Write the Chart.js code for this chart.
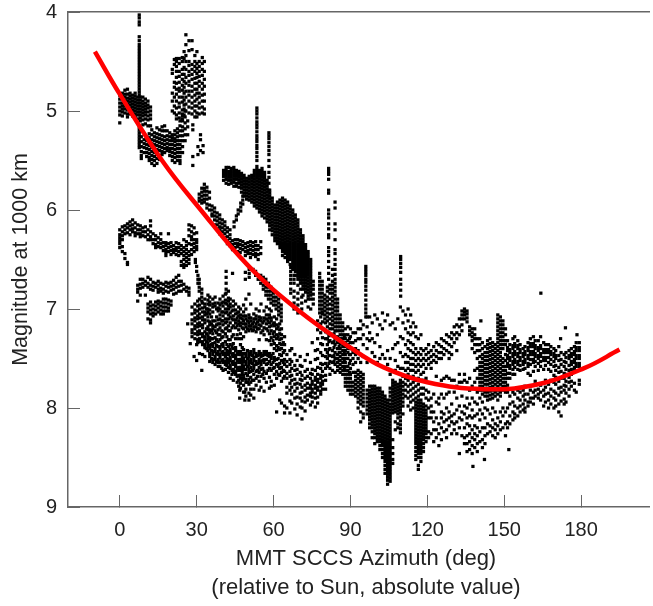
<!DOCTYPE html>
<html>
<head>
<meta charset="utf-8">
<style>
html,body{margin:0;padding:0;background:#fff}
#wrap{width:653px;height:606px;position:relative}
</style>
<script src="https://cdn.jsdelivr.net/npm/chart.js@4"></script>
</head>
<body>
<div id="wrap"><canvas id="c"></canvas></div>
<script>
const xTickValues = [0, 30, 60, 90, 120, 150, 180];
const yTickValues = [4, 5, 6, 7, 8, 9];
const xTitleLines = ['MMT SCCS Azimuth (deg)', '(relative to Sun, absolute value)'];
const yTitle = 'Magnitude at 1000 km';

// fit curve
const fitAzimuth = [-9.7, 0, 16.5, 31, 50, 70, 90, 103, 120, 142, 161.5, 181, 195];
const fitMagnitude = [4.4, 4.83, 5.5, 5.98, 6.56, 7.02, 7.39, 7.59, 7.74, 7.81, 7.77, 7.6, 7.41];

// every row: azimuth, then the magnitudes seen in that column
const spikeRows = [
[7.6,4.03,4.06,4.1,4.13,4.25,4.29,4.33,4.36,4.39,4.42,4.45,4.48,4.51,4.54,4.57,4.6,4.63,4.66,4.69,4.72,4.75,4.78,4.81,4.84,5.16,5.19,5.22,5.25,5.28,5.31,5.34,5.37],
[8.4,5.2,5.26,5.31,5.36,5.41,5.45,5.48],
[53.5,4.97,5.0,5.03,5.07,5.11,5.14,5.17,5.21,5.25,5.28,5.31,5.35,5.38,5.42,5.46,5.5],
[58.2,5.22,5.25,5.28,5.32,5.36,5.4,5.44,5.5,5.56,5.62,5.67,5.73,5.8,5.86],
[81.5,5.58,5.61,5.64,5.69,5.8,5.83,6.0,6.04,6.08,6.14,6.19,6.25,6.28,6.38,6.42,6.46,6.52,6.58,6.64,6.7],
[84,5.92,5.98,6.14,6.2,6.3,6.4,6.44,6.5,6.55,6.6,6.65,6.7,6.74],
[96,6.57,6.6,6.63,6.66,6.7,6.73,6.77,6.81,6.86,6.91,6.96,7.0,7.04,7.08],
[109.6,6.47,6.5,6.54,6.58,6.63,6.7,6.75,6.81,6.87],
[164.3,6.84],[173.9,7.19],[178.4,7.26],[172,7.3],[140.9,7.12],[137.8,8.59],[142.3,8.52],[151.8,8.42],[132.5,8.46]
];

const sunBlobRows = [
[0,4.84,4.88,4.92,4.96,5.0,5.04,5.12],
[1,4.82,4.85,4.88,4.92,4.95,4.98,5.01,5.05],
[2,4.79,4.83,4.86,4.89,4.92,4.95,4.98,5.02],
[3,4.78,4.83,4.87,4.9,4.93,4.96,4.99,5.03,5.06],
[4,4.82,4.85,4.88,4.91,4.94,4.97,5.0,5.03],
[5,4.84,4.87,4.9,4.93,4.96,4.99,5.02,5.05],
[6,4.82,4.85,4.88,4.91,4.94,4.97,5.0,5.03,5.06],
[7,4.86,4.89,4.92,4.95,4.98,5.01,5.04,5.08],
[8,4.86,4.89,4.92,4.95,4.98,5.01,5.04,5.07,5.1],
[9,4.86,4.9,4.93,4.96,4.99,5.02,5.05,5.09,5.14],
[10,4.88,4.92,4.95,4.98,5.01,5.04,5.08,5.13],
[11,4.9,4.94,4.97,5.01,5.05,5.09,5.15],
[12,4.96,5.0,5.04,5.08,5.15]
];

const lowerCupRows = [
[9.5,5.29,5.33,5.37,5.42],
[10.5,5.26,5.3,5.34,5.38,5.42,5.46],
[11.5,5.23,5.27,5.31,5.35,5.39,5.43,5.47,5.5],
[12.5,5.19,5.24,5.29,5.33,5.37,5.41,5.45,5.49,5.53],
[13.5,5.22,5.26,5.3,5.34,5.38,5.42,5.46,5.5,5.55],
[14.5,5.17,5.23,5.27,5.31,5.35,5.39,5.44,5.48,5.53],
[15.5,5.19,5.24,5.28,5.32,5.36,5.4,5.45,5.49],
[16.5,5.16,5.2,5.25,5.29,5.33,5.37,5.41,5.44],
[17.5,5.15,5.2,5.26,5.3,5.34,5.38,5.42],
[18.5,5.2,5.25,5.29,5.33,5.37,5.4],
[19.5,5.22,5.26,5.3,5.34,5.38,5.41,5.45],
[20.5,5.24,5.27,5.3,5.34,5.38,5.42,5.46,5.5],
[21.5,5.2,5.24,5.28,5.31,5.35,5.39,5.43,5.47,5.52],
[22.5,5.18,5.22,5.26,5.3,5.34,5.38,5.42,5.46,5.5],
[23.5,5.1,5.15,5.2,5.25,5.3,5.34,5.38,5.42,5.46,5.5,5.53],
[24.5,5.05,5.1,5.16,5.2,5.25,5.3,5.36,5.42],
[25.5,5.0,5.06,5.12,5.18,5.24,5.3],
[26.5,5.1,5.16,5.24],
[28.5,5.14,5.19,5.46,5.55],[30.5,5.36,5.44],[31.5,5.24,5.29,5.4],[32.5,5.35,5.42]
];

const towerRows = [
[20.5,4.58,4.62,4.82,4.9,5.0],
[21.3,4.48,4.53,4.71,4.76,4.86,4.95,5.02],
[22.1,4.47,4.5,4.55,4.6,4.66,4.72,4.78,4.83,4.9,4.97,5.04,5.08],
[23.2,4.47,4.52,4.6,4.65,4.71,4.77,4.8,4.86,4.92,4.96,5.02,5.07],
[24.4,4.46,4.5,4.58,4.63,4.68,4.74,4.79,4.86,4.91,4.99,5.03,5.08],
[25.1,4.4,4.47,4.56,4.63,4.7,4.76,4.82,4.89,4.94,4.98,5.04],
[25.8,4.23,4.33,4.44,4.5,4.58,4.66,4.72,4.8,4.86,4.93,5.0],
[27,4.29,4.39,4.5,4.54,4.6,4.64,4.7,4.74,4.8,4.84,4.9,4.96,5.02],
[28.2,4.29,4.38,4.53,4.58,4.63,4.68,4.75,4.8,4.86,4.92,4.97,5.03],
[29.3,4.44,4.5,4.55,4.6,4.67,4.72,4.78,4.84,4.9,4.95,5.0,5.06],
[30.1,4.4,4.52,4.57,4.62,4.66,4.72,4.78,4.82,4.88,4.95,5.02,5.06],
[31,4.5,4.55,4.6,4.65,4.7,4.75,4.82,4.86,4.92,4.97,5.03],
[32.2,4.46,4.52,4.58,4.64,4.72,4.78,4.84,4.9,4.96,5.02],
[33,4.5,4.6,4.68,4.75,4.83,4.9,4.98,5.03]
];

const curveBandRows = [
[31,5.84,5.88,5.91],[32,5.78,5.82,5.86,5.9,5.93],[33,5.74,5.78,5.81,5.85,5.89,5.92],
[34,5.77,5.81,5.85,5.89,5.94,5.98],[35,5.82,5.88,5.95,6.0],[36,5.96,6.0,6.04,6.06],[37,5.98,6.02,6.06,6.1,6.15],
[38,6.03,6.07,6.11,6.15,6.19],[39,6.05,6.09,6.13,6.17,6.2,6.24],[40,6.1,6.14,6.18,6.22,6.26],
[41,6.12,6.16,6.2,6.24,6.28],[42,6.18,6.22,6.27,6.31,6.34],[43,6.2,6.25,6.29,6.33,6.36],
[44,6.31,6.35,6.4],[45,6.3,6.34,6.38],[46,6.3,6.34,6.37,6.42],[47,6.31,6.35,6.39,6.43],[48,6.32,6.36,6.4],
[49,6.34,6.38,6.42,6.46],[50,6.33,6.37,6.41,6.44],[51,6.32,6.36,6.4,6.44,6.48],[52,6.33,6.37,6.41,6.45,6.6],[53,6.32,6.36,6.4,6.44,6.47,6.62,6.66],
[54,6.36,6.4,6.45,6.5,6.66,6.7],[55,6.32,6.38,6.44,6.66,6.7,6.74],[50.5,6.6,6.64,6.68],[56,6.68,6.72,6.76,6.8],
[57,6.7,6.74,6.78,6.82,6.86],[58,6.74,6.78,6.82,6.86,6.9],[59,6.78,6.82,6.86,6.9,6.94],[60,6.84,6.88,6.92,6.96],
[61,6.88,6.92,6.96,7.0],[62,6.9,6.94,6.98,7.02,7.06],[63,6.96,7.0,7.04,7.08,7.12],
[41.5,6.62,6.68,6.74,6.8,6.84],[49,6.63,6.7],[44,6.64]
];

const mainBandRows = [
[40.5,5.6,5.63,5.66,5.7],
[41.5,5.57,5.6,5.63,5.66,5.69,5.73],
[42.5,5.57,5.61,5.64,5.67,5.7,5.74],
[43.5,5.58,5.61,5.64,5.67,5.7,5.73],
[44.5,5.57,5.6,5.63,5.66,5.69,5.72,5.76],
[45.5,5.6,5.63,5.66,5.69,5.73,5.76],
[46.5,5.61,5.64,5.67,5.7,5.73,5.77],
[47.5,5.63,5.66,5.69,5.72,5.75,5.78,5.82],
[48.5,5.65,5.68,5.71,5.74,5.77,5.8,5.83,5.86],
[49.5,5.68,5.71,5.74,5.77,5.8,5.83,5.86,5.89],
[50.5,5.66,5.69,5.72,5.75,5.78,5.81,5.84,5.87,5.9],
[51.5,5.65,5.68,5.71,5.74,5.77,5.8,5.83,5.86,5.89,5.92],
[52.5,5.6,5.63,5.66,5.69,5.72,5.75,5.78,5.81,5.84,5.87,5.9,5.93,5.96],
[53.5,5.56,5.59,5.62,5.65,5.68,5.71,5.74,5.77,5.8,5.83,5.86,5.89,5.92,5.95,5.98],
[54.5,5.6,5.63,5.66,5.69,5.72,5.75,5.78,5.81,5.84,5.87,5.9,5.93,5.96,5.99,6.02],
[55.5,5.58,5.61,5.64,5.67,5.7,5.73,5.76,5.79,5.82,5.85,5.88,5.91,5.94,5.97,6.0,6.03,6.06],
[56.5,5.62,5.65,5.68,5.71,5.74,5.77,5.8,5.83,5.86,5.89,5.92,5.95,5.98,6.01,6.04,6.08],
[57.5,5.7,5.73,5.76,5.79,5.82,5.85,5.88,5.91,5.94,5.97,6.0,6.03,6.06,6.09,6.12],
[58.5,5.8,5.83,5.86,5.89,5.92,5.95,5.98,6.01,6.04,6.07,6.1,6.13,6.16,6.2],
[59.5,5.88,5.91,5.94,5.97,6.0,6.03,6.06,6.09,6.12,6.15,6.18,6.21,6.25],
[60.5,5.95,5.98,6.01,6.04,6.07,6.1,6.13,6.16,6.19,6.22,6.25,6.28,6.31],
[61.5,5.92,5.95,5.98,6.01,6.04,6.07,6.1,6.13,6.16,6.19,6.22,6.25,6.28,6.31,6.34],
[62.5,5.9,5.93,5.96,5.99,6.02,6.05,6.08,6.11,6.14,6.17,6.2,6.23,6.26,6.29,6.32,6.35,6.38],
[63.5,5.88,5.91,5.94,5.97,6.0,6.03,6.06,6.09,6.12,6.15,6.18,6.21,6.24,6.27,6.3,6.33,6.36,6.39,6.42,6.46],
[64.5,5.9,5.93,5.96,5.99,6.02,6.05,6.08,6.11,6.14,6.17,6.2,6.23,6.26,6.29,6.32,6.35,6.38,6.41,6.44,6.48],
[65.5,5.92,5.95,5.98,6.01,6.04,6.07,6.1,6.13,6.16,6.19,6.22,6.25,6.28,6.31,6.34,6.37,6.4,6.43,6.46,6.49,6.52],
[66.5,5.96,5.99,6.02,6.05,6.08,6.11,6.14,6.17,6.2,6.23,6.26,6.29,6.32,6.35,6.38,6.41,6.44,6.47,6.5,6.55],
[67.5,6.0,6.03,6.06,6.09,6.12,6.15,6.18,6.21,6.24,6.27,6.3,6.33,6.36,6.39,6.42,6.45,6.48,6.51,6.54,6.57,6.6],
[68.5,6.05,6.08,6.11,6.14,6.17,6.2,6.23,6.26,6.29,6.32,6.35,6.38,6.41,6.44,6.47,6.5,6.53,6.56,6.59,6.62,6.66],
[69.5,6.1,6.13,6.16,6.19,6.22,6.25,6.28,6.31,6.34,6.37,6.4,6.43,6.46,6.49,6.52,6.55,6.58,6.61,6.64,6.67,6.7],
[70.5,6.2,6.23,6.26,6.29,6.32,6.35,6.38,6.41,6.44,6.47,6.5,6.53,6.56,6.59,6.62,6.65,6.68,6.71,6.74,6.8],
[71.5,6.26,6.29,6.32,6.35,6.38,6.41,6.44,6.47,6.5,6.53,6.56,6.59,6.62,6.65,6.68,6.71,6.74,6.77,6.8,6.86],
[72.5,6.35,6.38,6.41,6.44,6.47,6.5,6.53,6.56,6.59,6.62,6.65,6.68,6.71,6.74,6.77,6.8,6.83,6.92],
[73.5,6.42,6.45,6.48,6.51,6.54,6.57,6.6,6.63,6.66,6.69,6.72,6.75,6.78,6.81,6.84,6.87,6.9,6.98],
[74.5,6.5,6.53,6.56,6.59,6.62,6.65,6.68,6.71,6.74,6.77,6.8,6.83,6.86,6.9,7.0],
[75.5,6.72,6.76,6.8,6.85,6.9,6.95],
[48,5.86,5.9,5.94],[47.2,5.93,5.97,6.01],[46.2,6.0,6.04],[45.5,6.06,6.1],[44.6,6.12,6.17],
[66.7,6.58,6.62,6.66,6.7,6.74,6.8,6.84],[68,6.66,6.7,6.74,6.82,6.88,6.94,7.0],[69.5,6.76,6.84,6.9,6.96,7.04],[71,6.88,6.94,7.0]
];

const arcUpperRows = [
[0,6.2,6.25,6.28,6.31,6.34,6.38],[1,6.17,6.22,6.26,6.3,6.37,6.42],[2,6.16,6.2,6.24,6.44,6.49],[3,6.14,6.18,6.23,6.53,6.55],
[4,6.12,6.16,6.2,6.25],[5,6.1,6.15,6.19,6.22],[6,6.13,6.18,6.23,6.26],[7,6.15,6.2,6.24],[8,6.16,6.2,6.24,6.27],[9,6.18,6.22,6.26],
[10,6.17,6.22,6.27],[11,6.2,6.25,6.3],[12,6.11,6.16,6.22,6.27,6.3],[13,6.24,6.3,6.34],[14,6.26,6.3,6.35,6.38],[15,6.28,6.33,6.37],
[16,6.24,6.3,6.34,6.38],[17,6.33,6.37,6.41],[18,6.33,6.36,6.4,6.43,6.46],[19,6.24,6.34,6.38,6.42],[20,6.33,6.37,6.41,6.45],[21,6.36,6.4,6.43],
[22,6.33,6.38,6.41,6.45],[23,6.34,6.38,6.42,6.46],[24,6.36,6.4,6.44,6.52,6.56],[25,6.3,6.38,6.42,6.46,6.5,6.55,6.58],[26,6.32,6.36,6.4,6.44,6.48,6.52,6.56],
[27,6.15,6.2,6.26,6.34,6.42,6.46,6.5,6.54],[28,6.16,6.22,6.27,6.3,6.35,6.4,6.45],[29,6.18,6.24,6.3,6.34,6.38,6.42],[30,6.23,6.3,6.33,6.37,6.4]
];

const arcLowerRows = [
[7,6.76,6.8,6.83,6.92],[8,6.7,6.75,6.79,6.86],[9,6.7,6.74,6.78],[10,6.72,6.76,6.86],[11,6.68,6.74,6.78],[12,6.7,6.76,6.8],
[13,6.73,6.77,6.81],[14,6.74,6.78],[15,6.72,6.76,6.8,6.83],[16,6.74,6.79,6.82],[17,6.75,6.8,6.84],[18,6.73,6.77,6.82],
[19,6.74,6.78,6.83],[20,6.73,6.77,6.81],[21,6.71,6.76,6.8,6.85],[22,6.68,6.74,6.78,6.84],[23,6.66,6.72,6.77,6.82],
[24,6.72,6.76,6.82],[25,6.75,6.8],[26,6.78,6.82],[27,6.79,6.83,6.86],
[11,6.95,6.99,7.03,7.1],[12,6.93,6.97,7.01,7.05,7.11,7.14],[13,6.96,7.0,7.04,7.07],[14,6.93,6.97,7.01,7.05],[15,6.92,6.95,6.99,7.03],
[16,6.93,6.97,7.01,7.05],[17,6.9,6.94,6.98,7.02,7.05],[18,6.9,6.94,6.98,7.02],[19,6.91,6.95,6.99,7.02],[20,6.92,6.96],
[29.5,6.5,6.53],[30,6.57,6.62],[30.5,6.66,6.7,6.74],[31,6.7,6.74,6.78,6.82],[32,6.8,6.84,6.88,6.92]
];

const centralRows = [
[28.2,6.98,7.05,7.11,7.15,7.21,7.24,7.28],
[29.3,6.95,7.01,7.04,7.09,7.12,7.17,7.2,7.25,7.3],
[30.4,6.92,6.97,7.02,7.07,7.1,7.15,7.18,7.23,7.26,7.31,7.34],
[31.1,6.9,6.96,7.0,7.05,7.09,7.14,7.17,7.22,7.25,7.3,7.33,7.45],
[32.3,6.94,6.99,7.03,7.08,7.11,7.16,7.19,7.25,7.28,7.33,7.36,7.46],
[33.2,6.9,6.95,6.98,7.03,7.06,7.11,7.14,7.23,7.28,7.31,7.36,7.39,7.48],
[34.4,6.86,6.91,6.95,7.0,7.03,7.08,7.12,7.18,7.21,7.27,7.3,7.35,7.38,7.42],
[35.1,6.88,6.93,6.96,7.01,7.05,7.13,7.16,7.21,7.24,7.29,7.32,7.37,7.4,7.45,7.48,7.53],
[36.3,6.9,6.95,6.98,7.03,7.12,7.17,7.2,7.25,7.3,7.35,7.38,7.43,7.46,7.51,7.54],
[37.2,6.88,6.94,6.97,7.12,7.18,7.22,7.29,7.34,7.4,7.43,7.48,7.51,7.56],
[38.4,6.94,6.99,7.02,7.11,7.15,7.21,7.26,7.33,7.38,7.43,7.46,7.51,7.54,7.58],
[39.1,6.9,6.96,7.0,7.06,7.1,7.15,7.19,7.26,7.31,7.38,7.41,7.46,7.49,7.54,7.58],
[40.3,6.87,6.93,6.97,7.03,7.07,7.12,7.16,7.23,7.28,7.35,7.38,7.43,7.46,7.51,7.54,7.62],
[41.2,6.85,6.91,6.94,7.0,7.04,7.1,7.14,7.2,7.25,7.33,7.4,7.45,7.48,7.53,7.56,7.61],
[42.4,6.82,6.89,6.92,6.97,7.0,7.06,7.1,7.17,7.22,7.31,7.38,7.43,7.46,7.51,7.54,7.59,7.64],
[43.1,6.9,6.95,6.98,7.04,7.08,7.14,7.22,7.31,7.36,7.41,7.44,7.49,7.52,7.57,7.6,7.7],
[44.3,6.92,6.97,7.01,7.07,7.11,7.17,7.26,7.35,7.4,7.45,7.48,7.53,7.56,7.61,7.64,7.72],
[45.2,6.95,7.01,7.05,7.11,7.14,7.19,7.3,7.39,7.42,7.47,7.5,7.55,7.58,7.63,7.66],
[46.4,6.98,7.03,7.07,7.12,7.15,7.21,7.3,7.43,7.46,7.51,7.54,7.59,7.62,7.67,7.72,7.78],
[47.1,7.0,7.06,7.09,7.14,7.17,7.25,7.36,7.43,7.46,7.51,7.54,7.59,7.62,7.67,7.7,7.75,7.8],
[48.3,6.96,7.03,7.07,7.12,7.15,7.2,7.28,7.41,7.45,7.5,7.53,7.58,7.61,7.67,7.7,7.77,7.84],
[49.2,6.9,7.0,7.07,7.1,7.15,7.18,7.23,7.45,7.48,7.53,7.56,7.61,7.65,7.71,7.74,7.81,7.88],
[50.4,6.85,7.06,7.09,7.14,7.17,7.22,7.45,7.48,7.53,7.56,7.61,7.64,7.71,7.76,7.85,7.92],
[51.1,6.95,7.09,7.12,7.17,7.2,7.43,7.46,7.51,7.54,7.59,7.63,7.69,7.74,7.81,7.87],
[52.3,7.05,7.1,7.13,7.18,7.21,7.41,7.44,7.49,7.52,7.57,7.6,7.66,7.72,7.81,7.9],
[53.2,7.0,7.07,7.1,7.15,7.18,7.23,7.45,7.48,7.53,7.56,7.63,7.7,7.77],
[54.4,7.02,7.08,7.11,7.16,7.2,7.31,7.43,7.46,7.51,7.54,7.59,7.64,7.73,7.82],
[55.1,6.95,7.09,7.12,7.17,7.24,7.45,7.48,7.53,7.56,7.61,7.68,7.79],
[56.3,7.02,7.09,7.12,7.19,7.26,7.43,7.46,7.51,7.54,7.63,7.7,7.83],
[57.2,6.98,7.06,7.1,7.15,7.2,7.31,7.43,7.46,7.51,7.56,7.65,7.74],
[58.4,7.0,7.06,7.09,7.14,7.18,7.25,7.32,7.45,7.48,7.53,7.6,7.69,7.8],
[59.1,7.02,7.09,7.12,7.17,7.22,7.29,7.36,7.47,7.5,7.56,7.62,7.73,7.78],
[60.3,7.08,7.14,7.17,7.23,7.28,7.35,7.4,7.49,7.52,7.59,7.66,7.77],
[61.2,7.1,7.16,7.2,7.26,7.3,7.37,7.42,7.51,7.56,7.63,7.7,8.04],
[62.4,7.15,7.21,7.25,7.31,7.35,7.41,7.46,7.55,7.6,7.67,7.92],
[63.1,7.2,7.26,7.3,7.36,7.4,7.47,7.52,7.59,7.64,7.73,7.95],
[64.3,7.28,7.36,7.42,7.51,7.56,7.63,7.68,7.98,8.05],
[65.2,7.46,7.53,7.58,7.65,7.7,7.79,7.85,8.0],
[66.4,7.42,7.51,7.56,7.63,7.68,7.75,7.82,7.93,8.05],
[67.1,7.4,7.53,7.6,7.67,7.72,7.79,7.86,7.95],
[68.3,7.46,7.57,7.62,7.71,7.76,7.83,7.9,8.01],
[69.2,7.52,7.61,7.66,7.75,7.8,7.89,7.96,8.07],
[70.4,7.48,7.57,7.64,7.71,7.76,7.85,7.9,7.99],
[71.1,7.58,7.67,7.72,7.79,7.84,7.93,8.0,8.11],
[72.3,7.52,7.63,7.7,7.77,7.82,7.89,7.94,8.03],
[73.2,7.46,7.61,7.68,7.75,7.8,7.87,7.92],
[74.4,7.54,7.65,7.7,7.77,7.8,7.85,7.88,7.97],
[75.1,7.34,7.61,7.66,7.73,7.76,7.81,7.84,7.89,7.94],
[76.3,7.42,7.51,7.62,7.69,7.72,7.77,7.8,7.85,7.9,7.99],
[77.2,7.12,7.21,7.3,7.41,7.5,7.59,7.66,7.71,7.74,7.79,7.82,7.89,7.95],
[78.4,7.08,7.15,7.24,7.35,7.44,7.55,7.6,7.67,7.7,7.75,7.78,7.83,7.86],
[79.1,7.05,7.13,7.2,7.29,7.36,7.47,7.56,7.63,7.68,7.73,7.76,7.81],
[80.3,7.14,7.23,7.3,7.41,7.48,7.55,7.6,7.67,7.72,7.81],
[47.5,7.3],[46.8,7.82,7.9],[48.8,7.84,7.92],[30,7.36,7.52],[26.5,7.15],[27.5,7.35],[29,7.48],[32,7.62]
];

// second pass over the darkest parts of the central cloud
const centralDarkRows = [
[33.8,7.0,7.05,7.2,7.25,7.33,7.4],[35.8,7.08,7.15,7.22,7.3,7.36,7.42,7.5],[37.8,7.0,7.08,7.16,7.24,7.31,7.37,7.45,7.53],
[39.8,6.94,7.03,7.12,7.22,7.29,7.36,7.44,7.52,7.6],[41.8,6.95,7.03,7.13,7.19,7.28,7.36,7.42,7.5,7.57],[43.8,7.02,7.1,7.19,7.28,7.38,7.46,7.54,7.62,7.66],
[45.8,7.04,7.09,7.17,7.26,7.45,7.52,7.6,7.68,7.74],[47.8,7.1,7.19,7.39,7.48,7.56,7.64,7.72],[49.8,7.12,7.2,7.42,7.5,7.58,7.67,7.74],
[51.8,7.15,7.22,7.47,7.55,7.62,7.72],[53.8,7.13,7.2,7.47,7.55,7.62,7.68],[55.8,7.14,7.22,7.47,7.52,7.6,7.66],[57.8,7.12,7.22,7.47,7.55,7.62],
[59.8,7.15,7.25,7.32,7.45,7.54,7.6],[61.8,7.18,7.28,7.39,7.5,7.58,7.66],[63.8,7.34,7.44,7.54,7.62,7.7]
];

const knotRows = [
[78,6.64,6.68,6.72,6.76,6.8,6.84,6.88,6.92,6.96,7.0,7.04],
[79,6.72,6.76,6.8,6.84,6.88,6.92,6.96,7.0,7.03],
[80,6.86,6.9,6.94,6.98,7.02,7.06,7.1],
[81,6.78,6.82,6.88,6.92,6.96,7.0,7.04,7.08,7.12,7.18,7.24,7.3,7.36,7.44,7.5,7.58],
[82,6.76,6.8,6.84,6.9,6.95,7.0,7.05,7.1,7.15,7.2,7.25,7.32,7.4,7.47,7.53,7.6,7.66],
[83,6.6,6.66,6.72,6.76,6.8,6.84,6.88,6.92,6.96,7.0,7.04,7.08,7.12,7.16,7.2,7.26,7.34,7.42,7.48,7.54,7.62],
[84,6.78,6.82,6.86,6.9,6.94,6.98,7.02,7.06,7.1,7.14,7.18,7.22,7.3,7.36,7.44,7.5,7.56,7.64],
[85,6.9,6.94,6.98,7.02,7.06,7.1,7.14,7.18,7.22,7.28,7.34,7.4,7.46,7.5,7.54,7.58,7.62],
[86,7.06,7.1,7.14,7.18,7.22,7.26,7.3,7.35,7.4,7.44,7.48,7.52,7.56,7.6,7.64],
[87,7.14,7.18,7.22,7.26,7.3,7.34,7.38,7.42,7.46,7.5,7.54,7.58,7.62,7.66],
[88,7.2,7.26,7.3,7.34,7.38,7.42,7.46,7.5,7.54,7.58,7.62,7.66,7.7,7.74,7.78],
[89,7.18,7.26,7.32,7.36,7.4,7.44,7.5,7.58,7.62,7.66,7.7,7.74,7.78,7.82],
[90,7.2,7.28,7.34,7.4,7.46,7.52,7.6,7.66,7.7,7.74,7.78,7.82,7.86],
[91,7.24,7.34,7.44,7.5,7.56,7.64,7.74,7.78,7.82,7.86],
[92,7.24,7.32,7.4,7.46,7.54,7.64,7.68,7.72,7.76,7.8,7.84,7.88],
[93,7.2,7.3,7.42,7.5,7.62,7.66,7.7,7.74,7.78,7.82,7.86,7.9,7.94,8.0],
[94,7.12,7.2,7.3,7.46,7.54,7.64,7.68,7.72,7.76,7.8,7.84,7.88,7.92,7.96,8.04,8.14],
[95,7.16,7.26,7.36,7.48,7.66,7.7,7.74,7.78,7.82,7.86,7.9,7.94,7.98,8.06,8.1],
[81.6,7.27,7.33,7.41,7.47,7.55],[83.6,7.25,7.33,7.39,7.47,7.53],[85.6,7.32,7.38,7.44,7.52],[87.6,7.28,7.36,7.44,7.52,7.6],[89.6,7.3,7.38,7.46,7.55,7.64]
];

const deepBlobRows = [
[96.5,7.18,7.08,7.3,7.4,7.54,7.82,7.86,7.9,7.94,7.98,8.02,8.06],
[97.5,7.08,7.24,7.32,7.78,7.82,7.85,7.88,7.91,7.94,7.97,8.0,8.03,8.06,8.09,8.12,8.16,8.2],
[98.5,7.14,7.3,7.44,7.78,7.81,7.84,7.87,7.9,7.93,7.96,7.99,8.02,8.05,8.08,8.11,8.14,8.17,8.2,8.24,8.3],
[99.5,7.06,7.34,7.48,7.78,7.81,7.84,7.87,7.9,7.93,7.96,7.99,8.02,8.05,8.08,8.11,8.14,8.17,8.2,8.23,8.26,8.3,8.36],
[100.5,7.1,7.26,7.54,7.8,7.83,7.86,7.89,7.92,7.95,7.98,8.01,8.04,8.07,8.1,8.13,8.16,8.19,8.22,8.25,8.28,8.31,8.34],
[101.5,7.16,7.38,7.5,7.8,7.83,7.86,7.89,7.92,7.95,7.98,8.01,8.04,8.07,8.1,8.13,8.16,8.19,8.22,8.25,8.28,8.31,8.34,8.38,8.42],
[102.5,7.04,7.2,7.46,7.84,7.87,7.9,7.93,7.96,7.99,8.02,8.05,8.08,8.11,8.14,8.17,8.2,8.23,8.26,8.29,8.32,8.35,8.38,8.42,8.46,8.5],
[103.5,7.12,7.5,7.88,7.91,7.94,7.97,8.0,8.03,8.06,8.09,8.12,8.15,8.18,8.21,8.24,8.27,8.3,8.33,8.36,8.39,8.42,8.45,8.48,8.51,8.54,8.58,8.62,8.66],
[104.5,7.06,7.42,7.56,7.92,7.95,7.98,8.01,8.04,8.07,8.1,8.13,8.16,8.19,8.22,8.25,8.28,8.31,8.34,8.37,8.4,8.43,8.46,8.49,8.52,8.55,8.58,8.61,8.64,8.67,8.7,8.73,8.77],
[105.5,7.16,7.5,7.66,7.8,7.84,7.88,7.92,7.96,7.99,8.02,8.05,8.08,8.11,8.14,8.17,8.2,8.23,8.26,8.29,8.32,8.35,8.38,8.41,8.44,8.47,8.5,8.53,8.56,8.59,8.62,8.65,8.68,8.71,8.74],
[106.5,7.14,7.4,7.72,7.75,7.78,7.81,7.84,7.87,7.9,7.93,7.96,7.99,8.02,8.05,8.32,8.4,8.46,8.52,8.56],
[107.5,7.2,7.36,7.52,7.62,7.74,7.77,7.8,7.83,7.86,7.89,7.92,7.95,7.98,8.01,8.04,8.14,8.22],
[108.5,7.1,7.34,7.58,7.76,7.79,7.82,7.85,7.88,7.91,7.94,7.97,8.0,8.03,8.06,8.1,8.16,8.2],
[109.5,6.98,7.28,7.44,7.6,7.72,7.75,7.78,7.81,7.84,7.87,7.9,7.93,7.96,7.99,8.02,8.05,8.09,8.13,8.17,8.21,8.25],
[110.5,7.02,7.14,7.3,7.48,7.6,7.68,7.74,7.78,7.82,7.86,7.9,7.94,7.98,8.06],
[111.5,7.06,7.2,7.36,7.46,7.54,7.62,7.7,7.76,7.82,7.88],
[112.5,7.0,7.12,7.24,7.32,7.4,7.48,7.54,7.6,7.66,7.72,7.78,7.84,7.9,7.98],
[113.5,7.06,7.18,7.26,7.34,7.42,7.5,7.56,7.62,7.7,7.76,7.82,7.88,7.94,8.02],
[114.5,7.14,7.24,7.36,7.44,7.5,7.56,7.62,7.68,7.74,7.8,7.86,7.92,8.0],
[115.5,7.18,7.28,7.4,7.46,7.52,7.58,7.64,7.72,7.78,7.84,7.9,7.94,7.97,8.0,8.03,8.06,8.09,8.12,8.15,8.18,8.21,8.24,8.27,8.3,8.33,8.36,8.4,8.44,8.48,8.52],
[116.5,7.3,7.44,7.5,7.56,7.62,7.7,7.76,7.82,7.88,7.92,7.95,7.98,8.01,8.04,8.07,8.1,8.13,8.16,8.19,8.22,8.25,8.28,8.31,8.34,8.37,8.4,8.43,8.46,8.5,8.58,8.62],
[117.5,7.26,7.4,7.46,7.52,7.58,7.66,7.72,7.8,7.86,7.92,7.95,7.98,8.01,8.04,8.07,8.1,8.13,8.16,8.19,8.22,8.25,8.28,8.31,8.34,8.37,8.4,8.43,8.46,8.5,8.54],
[118.5,7.42,7.5,7.56,7.64,7.72,7.8,7.86,7.96,7.99,8.02,8.05,8.08,8.11,8.14,8.17,8.2,8.23,8.26,8.29,8.32,8.36,8.4,8.44],
[119.5,7.4,7.46,7.52,7.6,7.7,7.82,7.9,7.98,8.02,8.05,8.08,8.11,8.14,8.17,8.2,8.23,8.26,8.3,8.34]
];

const rightRows = [
[120.5,7.36,7.44,7.5,7.56,7.84,7.92,8.0,8.1,8.24,8.3],[121.5,7.42,7.48,7.54,7.6,7.9,7.98,8.04,8.1,8.26],[122.5,7.38,7.46,7.52,7.86,8.04,8.14,8.22,8.34],
[123.5,7.34,7.42,7.48,7.54,7.68,7.94,8.1,8.22,8.3],[124.5,7.36,7.44,7.5,7.9,7.96,8.16,8.26,8.38],[125.5,7.3,7.38,7.44,7.5,7.72,7.86,8.04,8.1,8.2,8.32],
[126.5,7.32,7.4,7.46,7.7,7.9,8.06,8.14,8.24],[127.5,7.26,7.34,7.42,7.68,7.86,8.0,8.12,8.22,8.3],[128.5,7.28,7.36,7.44,7.5,7.7,7.84,8.04,8.1,8.18],
[129.5,7.24,7.3,7.38,7.46,7.72,7.96,8.08,8.14,8.26],[130.5,7.18,7.26,7.34,7.72,7.84,8.06,8.16,8.22],[131.5,7.16,7.24,7.3,7.42,7.78,7.9,8.02,8.14,8.26],
[132.5,7.1,7.18,7.26,7.66,7.74,7.98,8.1,8.2],[133.5,7.02,7.06,7.1,7.16,7.22,7.74,7.88,8.04,8.12,8.28],[134.5,7.0,7.03,7.06,7.1,7.66,7.72,7.98,8.06,8.2,8.3,8.36],
[135.5,7.02,7.05,7.09,7.13,7.74,7.9,8.0,8.1,8.16,8.28,8.36,8.44],[136.5,7.18,7.22,7.26,7.7,7.82,7.96,8.08,8.18,8.26,8.34,8.42],[137.5,7.2,7.24,7.28,7.32,7.4,7.78,7.9,8.02,8.1,8.22,8.3,8.38,8.46],
[138.5,7.2,7.26,7.3,7.36,7.44,7.62,7.74,7.94,8.08,8.18,8.26,8.32,8.4],[139.5,7.3,7.36,7.42,7.5,7.6,7.7,7.84,7.96,8.06,8.2,8.28,8.36,8.44],
[140.5,7.3,7.36,7.42,7.48,7.54,7.58,7.62,7.66,7.7,7.74,7.78,7.82,7.9,8.02,8.12,8.24,8.34],
[141.5,7.34,7.4,7.46,7.5,7.54,7.58,7.62,7.66,7.7,7.74,7.78,7.82,7.86,7.94,8.06,8.2,8.32,8.4],
[142.5,7.38,7.44,7.48,7.52,7.56,7.6,7.64,7.68,7.72,7.76,7.8,7.84,7.88,8.0,8.1,8.2,8.28,8.36],
[143.5,7.32,7.36,7.4,7.44,7.48,7.52,7.56,7.6,7.64,7.68,7.72,7.76,7.8,7.84,7.88,7.92,8.02,8.16,8.26],
[144.5,7.3,7.35,7.39,7.43,7.47,7.51,7.55,7.59,7.63,7.67,7.71,7.75,7.79,7.83,7.87,7.91,8.06,8.18,8.24],
[145.5,7.34,7.38,7.42,7.46,7.5,7.54,7.58,7.62,7.66,7.7,7.74,7.78,7.82,7.86,7.9,8.0,8.12,8.2,8.28],
[146.5,7.36,7.4,7.44,7.48,7.52,7.56,7.6,7.64,7.68,7.72,7.76,7.8,7.84,7.88,8.04,8.16,8.22,8.3],
[147.5,7.06,7.1,7.14,7.18,7.22,7.26,7.3,7.34,7.38,7.42,7.46,7.5,7.54,7.58,7.62,7.66,7.7,7.74,7.78,7.82,7.86,7.92,8.1,8.18,8.26],
[148.5,7.08,7.12,7.16,7.2,7.24,7.28,7.32,7.36,7.4,7.44,7.48,7.52,7.56,7.6,7.64,7.68,7.72,7.76,7.8,7.84,7.88,8.04,8.14,8.22],
[149.5,7.12,7.16,7.2,7.24,7.28,7.32,7.36,7.4,7.5,7.54,7.58,7.62,7.66,7.7,7.74,7.78,7.82,8.0,8.08,8.2],
[150.5,7.2,7.26,7.32,7.36,7.46,7.52,7.58,7.62,7.66,7.7,7.74,7.78,7.84,8.04,8.16,8.28],
[151.3,7.32,7.39,7.42,7.47,7.5,7.55,7.58,7.65,7.7,7.77,7.84,8.0,8.14,8.2],
[152.2,7.36,7.41,7.44,7.49,7.52,7.57,7.6,7.65,7.7,7.88,7.96,8.08,8.16],
[153.4,7.3,7.37,7.4,7.45,7.48,7.53,7.56,7.61,7.66,7.84,7.94,8.04,8.12],
[154.1,7.28,7.35,7.38,7.43,7.46,7.51,7.54,7.59,7.66,7.86,7.98,8.06,8.1],
[155.3,7.32,7.37,7.4,7.45,7.48,7.53,7.56,7.61,7.82,7.9,8.0,8.08],
[156.2,7.36,7.41,7.44,7.49,7.52,7.57,7.62,7.84,7.92,7.98,8.04],
[157.4,7.4,7.45,7.48,7.53,7.56,7.61,7.82,7.88,7.96,8.02],
[158.1,7.38,7.43,7.46,7.51,7.54,7.6,7.78,7.86,7.92,8.0,8.04],
[159.3,7.34,7.39,7.42,7.47,7.5,7.55,7.58,7.65,7.86,7.94,7.98],
[160.2,7.3,7.35,7.38,7.43,7.46,7.51,7.56,7.67,7.82,7.9,7.94],
[161.4,7.28,7.35,7.38,7.43,7.46,7.51,7.54,7.63,7.84,7.9,7.96],
[162.1,7.32,7.37,7.4,7.45,7.48,7.53,7.58,7.73,7.82,7.88],
[163.3,7.32,7.39,7.42,7.47,7.5,7.55,7.62,7.81,7.86,7.9],
[164.2,7.28,7.37,7.4,7.45,7.48,7.53,7.58,7.77,7.84,7.92],
[165.4,7.34,7.41,7.44,7.49,7.52,7.61,7.82,7.88,7.98],
[166.1,7.36,7.41,7.44,7.49,7.52,7.57,7.72,7.79,7.86,7.94],
[167.3,7.36,7.41,7.44,7.49,7.54,7.61,7.76,7.85,7.92,8.0],
[168.2,7.38,7.43,7.46,7.51,7.56,7.63,7.72,7.81,7.88,7.96],
[169.4,7.4,7.45,7.48,7.53,7.58,7.67,7.74,7.83,7.9,8.0],
[170.1,7.42,7.47,7.5,7.57,7.62,7.69,7.76,7.85,7.92,7.98],
[171.3,7.38,7.47,7.52,7.59,7.64,7.73,7.8,7.87,7.96,8.04],
[172.2,7.44,7.51,7.56,7.63,7.7,7.79,7.84,7.93,8.08],
[173.4,7.46,7.53,7.58,7.65,7.7,7.77,7.82,7.91,7.96],
[174.1,7.44,7.49,7.54,7.61,7.66,7.73,7.78,7.85,7.94],
[175.3,7.42,7.47,7.5,7.57,7.62,7.69,7.74,7.81,7.88],
[176.2,7.4,7.45,7.48,7.53,7.56,7.61,7.66,7.73,7.78],
[177.4,7.38,7.43,7.46,7.51,7.54,7.59,7.62,7.75,7.82],
[178.1,7.34,7.39,7.42,7.47,7.5,7.55,7.58,7.63,7.84],
[179.3,7.34,7.39,7.42,7.47,7.5,7.55,7.58,7.72,7.76]
];

const scatterRows = [spikeRows, sunBlobRows, lowerCupRows, towerRows, curveBandRows, mainBandRows,
  arcUpperRows, arcLowerRows, centralRows, centralDarkRows, knotRows, deepBlobRows, rightRows];

const dots = scatterRows.flat().flatMap(([az, ...mags]) => mags.map((m) => ({ x: az, y: m })));
const fitLine = fitAzimuth.map((az, i) => ({ x: az, y: fitMagnitude[i] }));

const AXIS_COLOR = '#666';
const TEXT_COLOR = '#222';
const FONT = 'Liberation Sans';

// the axes sit at fixed places, so drop the room Chart.js keeps for label overhang
const pinX = (height) => (s) => { s.height = height; s.paddingLeft = 0; s.paddingRight = 0; };

// the x title is not centred on the axis in the original, so it is drawn by hand
const xTitlePlugin = {
  id: 'xTitle',
  afterDraw: (chart) => {
    const { ctx } = chart;
    ctx.save();
    ctx.fillStyle = TEXT_COLOR;
    ctx.font = `22px "${FONT}"`;
    ctx.textAlign = 'center';
    ctx.textBaseline = 'middle';
    xTitleLines.forEach((line, i) => ctx.fillText(line, 366, 559 + i * 29));
    ctx.restore();
  },
};

new Chart(document.getElementById('c'), {
  type: 'scatter',
  plugins: [xTitlePlugin],
  data: {
    datasets: [
      {
        data: fitLine,
        showLine: true,
        pointRadius: 0,
        borderColor: '#ff0000',
        borderWidth: 4.5,
        tension: 0.4,
        order: 1,
      },
      {
        data: dots,
        pointStyle: 'rect',
        pointRadius: 2.3,
        pointBorderWidth: 0,
        backgroundColor: '#000',
        borderWidth: 0,
        order: 2,
      },
    ],
  },
  options: {
    responsive: true,
    maintainAspectRatio: false,
    animation: false,
    layout: { padding: 0 },
    plugins: { legend: { display: false }, tooltip: { enabled: false } },
    scales: {
      x: {
        type: 'linear',
        min: -20.2,
        max: 206.5,
        afterBuildTicks: (s) => { s.ticks = xTickValues.map((value) => ({ value })); },
        afterFit: pinX(99),
        border: { color: AXIS_COLOR, width: 1.5 },
        grid: { drawOnChartArea: false, color: AXIS_COLOR, tickLength: -12, tickWidth: 1 },
        ticks: { color: TEXT_COLOR, font: { family: FONT, size: 20 }, padding: 23, maxRotation: 0, autoSkip: false },
      },
      xTop: {
        type: 'linear',
        position: 'top',
        min: -20.2,
        max: 206.5,
        afterFit: pinX(12),
        border: { color: AXIS_COLOR, width: 1.5 },
        grid: { drawOnChartArea: false, drawTicks: false },
        ticks: { display: false },
      },
      y: {
        reverse: true,
        min: 4,
        max: 9,
        afterBuildTicks: (s) => { s.ticks = yTickValues.map((value) => ({ value })); },
        afterFit: (s) => { s.width = 68; s.paddingTop = 0; s.paddingBottom = 0; },
        border: { color: AXIS_COLOR, width: 1.5 },
        grid: { drawOnChartArea: false, color: AXIS_COLOR, tickLength: -12, tickWidth: 1 },
        ticks: { color: TEXT_COLOR, font: { family: FONT, size: 20 }, padding: 23, autoSkip: false },
        title: {
          display: true,
          text: yTitle,
          color: TEXT_COLOR,
          font: { family: FONT, size: 21.5 },
          padding: { top: 8, bottom: 0 },
        },
      },
    },
  },
});
</script>
</body>
</html>
